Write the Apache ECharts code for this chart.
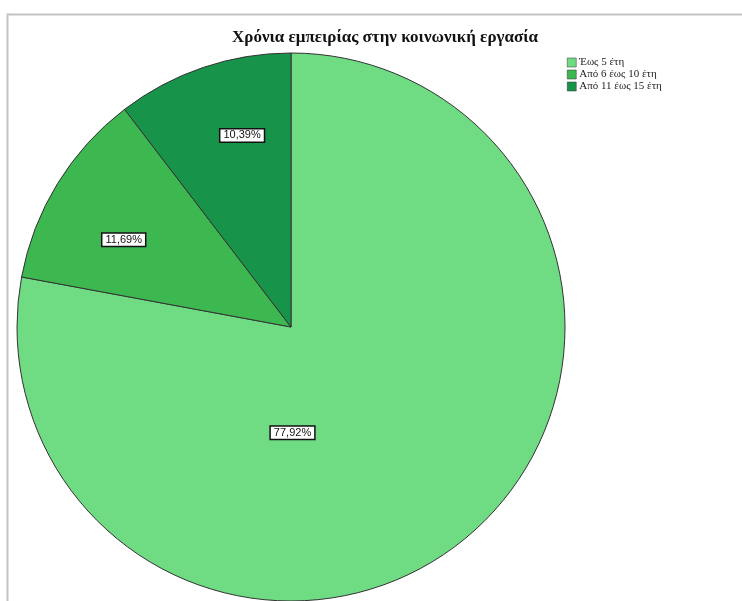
<!DOCTYPE html>
<html>
<head>
<meta charset="utf-8">
<script src="https://cdn.jsdelivr.net/npm/echarts@6/dist/echarts.min.js"></script>
<style>
html,body{margin:0;padding:0;background:#fff;}
#chart{width:742px;height:601px;}
</style>
</head>
<body>
<div id="chart"></div>
<script>
const titleText = 'Χρόνια εμπειρίας στην κοινωνική εργασία';
const categories = ['Έως 5 έτη', 'Από 6 έως 10 έτη', 'Από 11 έως 15 έτη'];
const counts = [60, 9, 8];
const labelTexts = ['77,92%', '11,69%', '10,39%'];
const colors = ['#6fdc84', '#3db850', '#17944a'];
const labelShift = [[-88, -2], [-48, -14], [-4, -59]];

const chart = echarts.init(document.getElementById('chart'), null, {renderer: 'canvas'});
chart.setOption({
  animation: false,
  backgroundColor: '#ffffff',
  graphic: [{
    type: 'rect',
    shape: {x: 7.5, y: 14.5, width: 760, height: 620},
    style: {fill: 'none', stroke: '#c4c4c4', lineWidth: 2},
    silent: true
  }],
  title: {
    text: titleText,
    left: 380,
    textAlign: 'center',
    top: 24,
    textStyle: {fontFamily: 'Liberation Serif', fontWeight: 'bold', fontSize: 17, color: '#111'}
  },
  legend: {
    orient: 'vertical',
    left: 562,
    top: 52,
    icon: 'rect',
    itemWidth: 9,
    itemHeight: 9,
    itemGap: 1,
    itemStyle: {borderColor: '#333', borderWidth: 0.5},
    textStyle: {fontFamily: 'Liberation Serif', fontSize: 11, lineHeight: 9, color: '#222', padding: [0, 0, 0, -2]},
    data: categories
  },
  series: [{
    type: 'pie',
    center: [291, 327],
    radius: 274,
    startAngle: 90,
    clockwise: true,
    avoidLabelOverlap: false,
    itemStyle: {borderColor: '#333', borderWidth: 1},
    emphasis: {disabled: true},
    label: {
      show: true,
      position: 'inside',
      formatter: p => labelTexts[p.dataIndex],
      fontFamily: 'Liberation Sans',
      fontSize: 11,
      color: '#111',
      backgroundColor: '#ffffff',
      borderColor: '#111',
      borderWidth: 1.5,
      padding: [1, 3, 0, 3]
    },
    labelLine: {show: false},
    labelLayout: p => ({dx: labelShift[p.dataIndex][0], dy: labelShift[p.dataIndex][1]}),
    data: categories.map((c, i) => ({name: c, value: counts[i], itemStyle: {color: colors[i]}}))
  }]
});
</script>
</body>
</html>
